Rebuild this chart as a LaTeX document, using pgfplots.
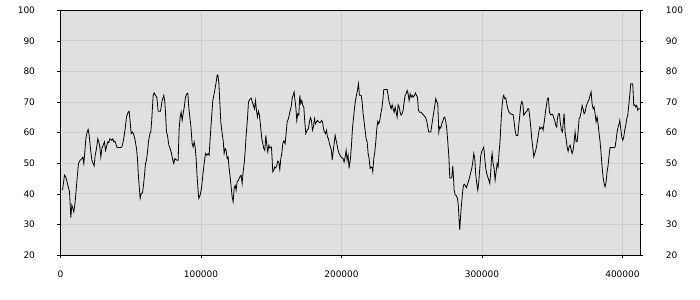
\documentclass[border=0pt]{standalone}
\usepackage{fontspec}
\setmainfont{DejaVu Sans}
\usepackage{pgfplots}
\pgfplotsset{compat=1.18}
\definecolor{plotbg}{RGB}{224,224,224}
\definecolor{gridc}{RGB}{206,206,206}
\begin{document}
\begin{tikzpicture}
\pgfplotsset{
  common/.style={
    scale only axis, width=579.8bp, height=244.7bp,
    xmin=0, xmax=412700, ymin=20, ymax=100,
    ytick={20,30,...,100},
    tick align=outside,
    major tick length=3bp,
    tick style={black, line width=0.6bp},
    ticklabel style={font=\fontsize{9bp}{10bp}\selectfont},
    /pgf/number format/assume math mode=true,
  }
}
\begin{axis}[common,
  axis background/.style={fill=plotbg},
  axis line style={black, line width=0.8bp},
  xtick={0,100000,200000,300000,400000},
  scaled x ticks=false,
  xticklabel style={/pgf/number format/fixed,/pgf/number format/1000 sep={}, yshift=-9bp},
  xtick pos=bottom, ytick pos=left,
  yticklabel style={xshift=-19bp},
  grid=major,
  major grid style={gridc, line width=0.8bp},
]
\coordinate (sw) at (rel axis cs:0,0);
\coordinate (ne) at (rel axis cs:1,1);
\addplot[black, line width=0.8bp, mark=none] table {
x y
1423 41.2
2847 46.1
3795 45.5
5219 42.8
6405 40.7
7354 32.2
8066 36.3
8778 35.2
9489 34.1
10438 37.4
11624 43.9
12811 49.9
13997 51.0
15183 51.5
15895 52.0
16607 49.9
17318 53.7
18030 58.0
18979 60.2
19691 61.1
20402 59.1
21351 54.8
22300 51.0
23249 49.9
23961 49.1
24673 52.6
25622 54.8
26571 58.0
27282 57.0
27994 55.3
28706 52.0
29417 54.8
30366 55.9
31315 57.0
32027 54.2
32976 55.9
33687 57.0
34399 56.7
35111 58.0
35822 57.8
36534 57.5
37246 58.0
37957 57.0
38669 57.2
39381 56.4
40092 55.3
41279 55.1
42465 55.1
43651 55.3
44837 57.5
46023 61.3
46972 65.1
47921 66.5
48870 67.0
49582 63.5
50294 59.7
51242 60.2
52191 59.3
53140 57.5
54089 54.8
54801 51.5
55513 45.5
56224 41.2
56699 38.5
57410 40.1
58359 40.3
59071 42.8
59783 46.1
60495 49.9
61206 51.0
61918 53.7
62630 57.0
63579 59.7
64290 60.2
65002 64.6
65951 72.2
66663 73.0
67612 72.2
68560 71.6
69509 67.0
71170 67.0
72356 70.5
73542 72.2
74254 70.0
74729 66.7
75440 60.2
76152 59.1
77101 55.9
78050 54.8
78999 53.2
79948 51.0
80659 49.9
81371 51.5
82795 51.0
83744 51.0
84455 61.3
85167 65.1
85879 66.7
86590 64.0
87302 66.2
88251 68.9
88963 71.6
89912 72.7
90623 72.9
91335 68.3
92047 65.1
92758 62.4
93707 56.4
94419 55.3
95131 57.0
95842 55.3
96554 51.5
97266 45.5
97978 40.7
98452 38.5
99401 39.6
100350 41.7
101299 46.1
102248 49.9
103197 53.2
104146 52.6
105095 53.2
105806 52.6
106518 58.0
107467 64.6
108416 70.5
109127 72.2
109839 73.8
110788 76.5
111500 78.7
111974 78.9
112686 76.5
113397 70.0
114109 63.5
115058 59.7
115770 57.5
116482 53.2
117193 54.8
117905 54.2
118617 51.5
119328 52.0
120040 48.3
120752 45.5
121463 42.3
122175 39.0
122887 37.4
123598 41.7
124310 42.8
125022 41.2
125733 43.9
126682 44.5
127631 45.5
128580 46.1
129292 43.4
130004 47.2
130715 49.9
131427 53.7
132139 59.1
133088 64.6
133799 70.0
134748 70.9
135697 71.3
136409 70.2
137358 68.9
138070 67.8
138782 70.5
139493 67.3
140205 65.1
140917 67.0
141628 65.7
142577 61.3
143289 58.0
144001 56.4
144712 54.8
145424 54.2
146136 59.1
146847 55.9
147559 53.7
148271 55.9
148982 55.0
150169 55.3
151118 47.2
151829 47.7
152541 48.8
153253 48.5
153964 49.3
154676 50.7
155388 50.4
156099 48.0
156811 51.5
157523 53.2
158234 56.4
158946 57.3
159895 56.4
160607 59.7
161318 63.5
162268 64.6
163217 66.7
164166 68.4
164877 71.1
165589 72.2
166301 73.3
166775 71.1
167487 68.4
168198 64.0
168910 66.2
169622 65.7
170333 72.2
171045 69.5
171757 70.5
172468 68.9
173180 68.4
173892 63.5
174603 59.7
175552 60.8
176501 61.3
177213 63.5
177925 64.9
178636 64.0
179348 60.8
180060 61.9
180771 64.6
181483 62.9
182195 63.5
182906 64.0
183618 63.6
184330 63.3
185041 63.3
185753 64.0
186465 63.6
187176 61.3
187888 60.2
188600 59.7
189312 60.8
190023 58.6
190735 58.0
191447 56.4
192158 55.3
192870 54.2
193345 51.0
194056 53.7
194768 56.4
195480 59.1
196191 57.5
196903 55.9
197615 54.2
198326 53.2
199276 52.3
200225 51.8
201174 51.5
201885 50.4
202597 52.0
203309 54.2
204020 51.0
204732 52.6
205444 48.3
205681 49.3
206393 51.5
207105 55.9
207816 61.3
208528 64.6
209240 67.8
209952 70.5
210663 72.2
211375 73.8
212087 76.0
212798 72.2
213985 72.2
214696 70.0
215408 66.2
216120 63.5
216831 60.8
217543 58.0
218255 57.0
218966 53.2
219678 51.5
220390 48.3
221101 48.8
221813 48.5
222288 47.2
223000 51.5
223711 53.7
224423 57.0
225135 61.3
225846 63.7
226558 62.9
227270 64.0
227981 66.2
228693 67.8
229405 70.5
230116 74.1
232489 74.1
233200 72.2
233912 70.0
234624 68.9
235335 67.8
236047 69.1
236759 67.8
237470 66.7
238182 68.4
238894 66.7
239605 65.1
240317 69.1
241029 68.4
241740 66.7
242452 65.7
243164 66.2
243875 67.3
244587 70.0
245299 72.2
246010 72.7
246722 73.8
247434 72.7
248145 70.5
248857 72.7
249569 71.6
250280 72.2
250992 71.6
251941 72.2
252653 73.0
253365 72.2
254076 71.6
254788 67.3
255500 66.7
256686 66.7
257873 66.0
259059 65.4
260008 64.8
260719 63.7
261431 61.8
262143 60.2
263566 60.2
264278 62.4
264990 64.6
265701 66.7
266413 68.9
267125 71.1
267836 70.0
268548 69.5
269260 60.2
269971 61.9
270683 61.5
271395 62.9
272106 63.8
272818 64.8
273530 65.1
274241 63.5
274953 61.3
275665 57.0
276376 52.6
276851 47.7
277088 45.2
278512 45.2
279224 49.1
279698 45.5
280173 41.2
280885 39.8
281833 39.3
282545 38.5
283257 35.8
283731 31.4
284206 28.2
284680 32.0
285392 36.3
286103 40.1
286815 42.8
287527 43.1
288239 42.6
288950 42.0
289899 43.4
290848 44.8
291797 46.6
292746 48.3
293458 50.4
294170 53.2
294881 51.5
295593 46.1
296305 43.4
297016 41.2
297728 43.9
298440 48.3
299151 52.6
299863 53.9
300575 54.6
301286 55.3
301998 51.5
302710 48.3
303421 46.6
304133 45.5
304845 44.5
305556 43.4
306268 47.2
306743 51.5
307217 53.2
307929 49.9
308641 48.3
309352 44.5
310064 47.2
310776 49.9
311487 48.8
312199 53.7
312911 57.5
313622 64.0
314334 68.9
315046 71.6
315520 72.2
316232 71.1
316944 71.3
317655 69.5
318367 67.8
319316 66.7
320265 66.2
321214 66.0
322163 65.9
322875 63.5
323586 60.8
324298 59.1
325484 59.1
326196 62.4
326908 65.7
327619 68.9
328331 70.2
329043 69.5
329754 65.7
330466 66.2
331178 66.7
331889 66.9
332601 67.8
333313 67.8
334024 65.1
334736 61.8
335448 58.0
336159 55.3
336871 52.1
337583 53.2
338294 54.2
339006 55.9
339718 58.0
340429 60.2
341141 61.8
341853 61.3
342802 61.8
343513 60.8
344463 64.0
345175 66.7
345886 68.9
346598 71.1
347310 71.3
348021 66.7
348733 65.9
349682 65.9
350394 65.9
351105 64.8
351817 64.0
352529 62.4
353240 61.8
353715 64.6
354427 66.2
355138 66.2
355850 62.9
356562 60.8
357273 60.2
357748 62.9
358460 66.2
359171 60.2
359883 58.0
360595 55.3
361306 53.9
362018 55.3
362730 55.9
363441 54.6
364153 53.2
364865 54.2
365576 57.0
366288 60.2
367000 57.0
367711 57.0
368423 60.2
369135 64.6
369846 65.1
370558 66.7
371270 68.9
371981 67.8
372693 66.2
373405 66.7
374116 68.4
374828 69.5
375540 70.2
376251 70.9
376963 72.2
377675 73.3
378386 69.5
379098 67.8
379810 68.4
380521 66.2
381233 63.5
381945 65.1
382656 62.9
383368 59.7
384080 57.0
384791 53.2
385503 48.8
386215 45.5
386926 43.4
387638 42.3
388350 43.9
389061 47.2
389773 49.3
390485 52.6
391196 55.1
393569 55.1
394755 55.3
395467 57.5
396178 60.2
396890 61.8
397602 62.9
398076 64.0
398788 61.3
399500 58.6
400211 57.5
400923 58.6
401635 60.8
402346 62.4
403058 64.6
403770 65.7
404481 68.9
405193 72.2
405905 76.0
407328 76.0
408040 68.9
408752 69.1
409463 68.4
410175 68.9
410887 67.3
411598 67.8
412547 67.8
};
\end{axis}
\begin{axis}[common,
  hide x axis,
  axis y line*=right,
  axis line style={black, line width=0.8bp},
  ytick pos=right,
  yticklabel pos=right,
  yticklabel style={anchor=west, xshift=19bp},
]
\addplot[draw=none] coordinates {(0,20)};
\end{axis}
\pgfresetboundingbox
\path[use as bounding box] ([xshift=-60.5bp,yshift=-45bp]sw) rectangle ([xshift=59.7bp,yshift=10.3bp]ne);
\end{tikzpicture}
\end{document}
